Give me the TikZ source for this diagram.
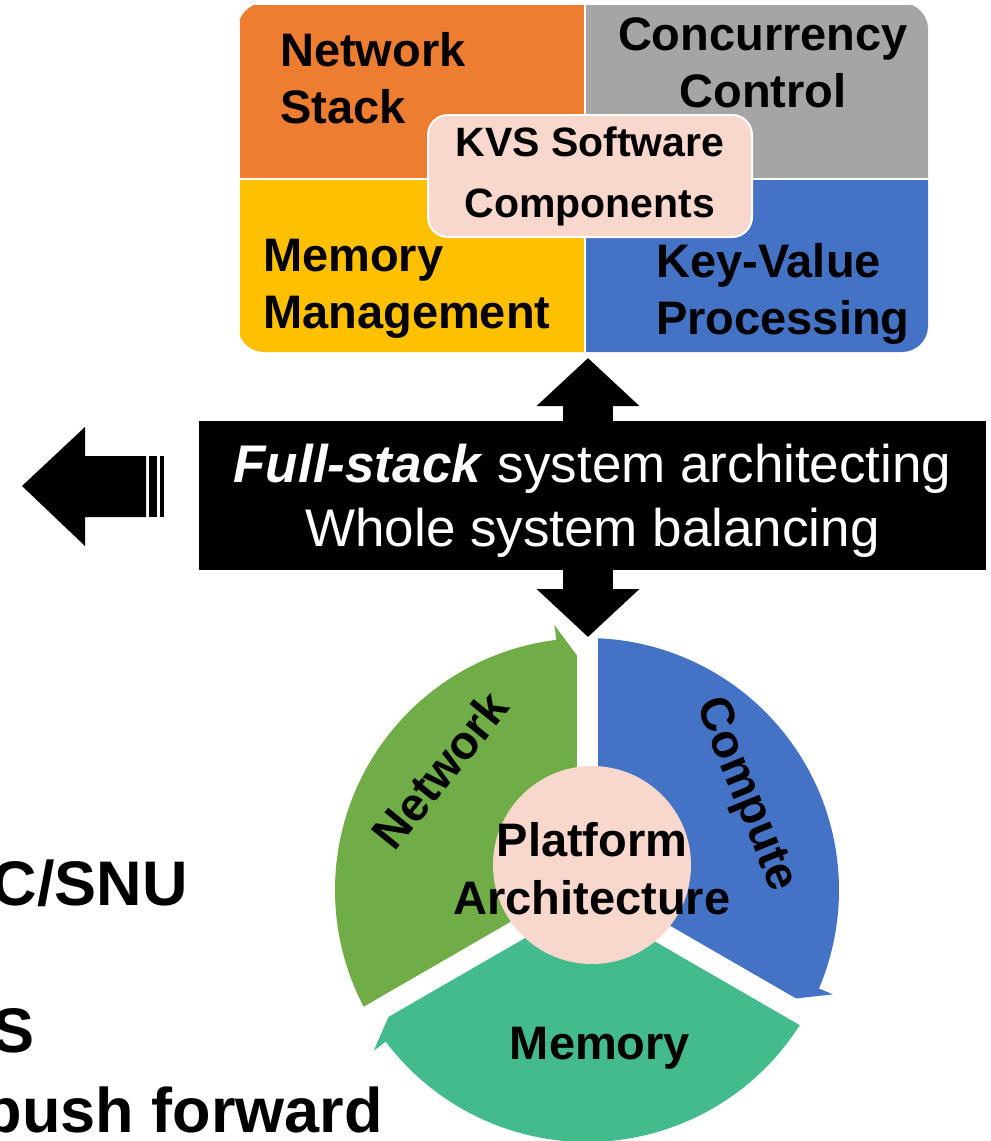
\documentclass[tikz,border=0pt]{standalone}
\usepackage{fontspec}
\setmainfont{Liberation Sans}
\usetikzlibrary{arrows.meta,calc}
\definecolor{netorange}{HTML}{ED7D31}
\definecolor{ccgray}{HTML}{A5A5A5}
\definecolor{memyellow}{HTML}{FFC000}
\definecolor{kvblue}{HTML}{4472C4}
\definecolor{softpink}{HTML}{F8D7CD}
\definecolor{netgreen}{HTML}{70AD47}
\definecolor{memteal}{HTML}{44BB8C}
\tikzset{
  quad/.style={draw=white, line width=2pt, rectangle, minimum width=346pt, minimum height=175pt, inner sep=0pt, anchor=north west},
  qtext/.style={font=\bfseries\fontsize{47}{57}\selectfont, inner sep=0pt},
  bigtxt/.style={font=\bfseries\fontsize{63}{70}\selectfont, inner sep=0pt, anchor=base east},
  fatarrow/.style={line width=50pt, -{Triangle[width=100pt,length=48pt]}},
  gapline/.style={white, line width=21pt}
}
\begin{document}
\begin{tikzpicture}[x=1pt, y=-1pt]
\clip (0,0) rectangle (991,1141);
\begin{scope}
\clip[rounded corners=26pt] (238,3) rectangle (928,352);
\node[quad, fill=netorange] (qnet) at (238,3) {};
\node[quad, fill=ccgray] (qcon) at (584,3) {};
\node[quad, fill=memyellow] (qmem) at (238,178) {};
\node[quad, fill=kvblue] (qkv) at (584,178) {};
\end{scope}
\node[qtext, anchor=base west, align=left] (tnet) at (280,123) {Network\\Stack};
\node[qtext, anchor=base, align=center] (tcon) at (763,107) {Concurrency\\Control};
\node[qtext, anchor=base west, align=left] (tmem) at (263,328) {Memory\\Management};
\node[qtext, anchor=base west, align=left] (tkv) at (656,334) {Key-Value\\Processing};
\node[draw=white, line width=2pt, fill=softpink, rounded corners=20pt, minimum width=324pt, minimum height=122pt, inner sep=0pt, font=\bfseries\fontsize{41}{61}\selectfont, align=center] (kvs) at (590,176) {KVS Software\\Components};

\node[fill=black, text=white, minimum width=787pt, minimum height=149pt, inner sep=0pt, text depth=0pt, font=\fontsize{53}{64}\selectfont, align=center] (banner) at (592.5,495.5) {\textbf{\textit{Full-stack}} system architecting\\Whole system balancing};

\fill (22,486) -- (85,427) -- (85,456) -- (146,456) -- (146,517) -- (85,517) -- (85,546) -- cycle;
\fill (149,456) rectangle (157,517);
\fill (160,456) rectangle (164,517);

\coordinate (cyc) at (587,890);
\foreach \col/\a in {netgreen/150, kvblue/270, memteal/30}
  \fill[\col] (cyc) -- ([shift={(\a:252)}]cyc) arc[start angle=\a, end angle=\a+113, radius=252] -- ([shift={(\a+113:267)}]cyc) -- ([shift={(\a+117.5:235)}]cyc) -- cycle;
\foreach \g in {30,150,270}
  \draw[gapline] (cyc) -- ([shift={(\g:275)}]cyc);
\node[circle, fill=softpink, minimum size=198pt, inner sep=0pt] (plat) at (592,865) {};
\node[qtext, font=\bfseries\fontsize{47}{58}\selectfont, align=center] (tplat) at (592,869) {Platform\\Architecture};
\node[qtext, rotate=51] (tnetw) at (440,770) {Network};
\node[qtext, rotate=-68] (tcomp) at (745,795) {Compute};
\node[qtext] (tmemo) at (600,1048) {Memory};

\coordinate (axis) at (588,0);
\coordinate (cyctop) at ([shift={(270:253)}]cyc);
\draw[fatarrow, shorten >=3pt] (banner.north -| axis) -- (qmem.south east -| axis);
\draw[fatarrow] (banner.south -| axis) -- (cyctop -| axis);

\node[bigtxt] (tsnu) at (188,905) {C/SNU};
\node[bigtxt] (ts) at (35,1052) {S};
\node[bigtxt] (tpush) at (383,1132) {push forward};
\end{tikzpicture}
\end{document}
